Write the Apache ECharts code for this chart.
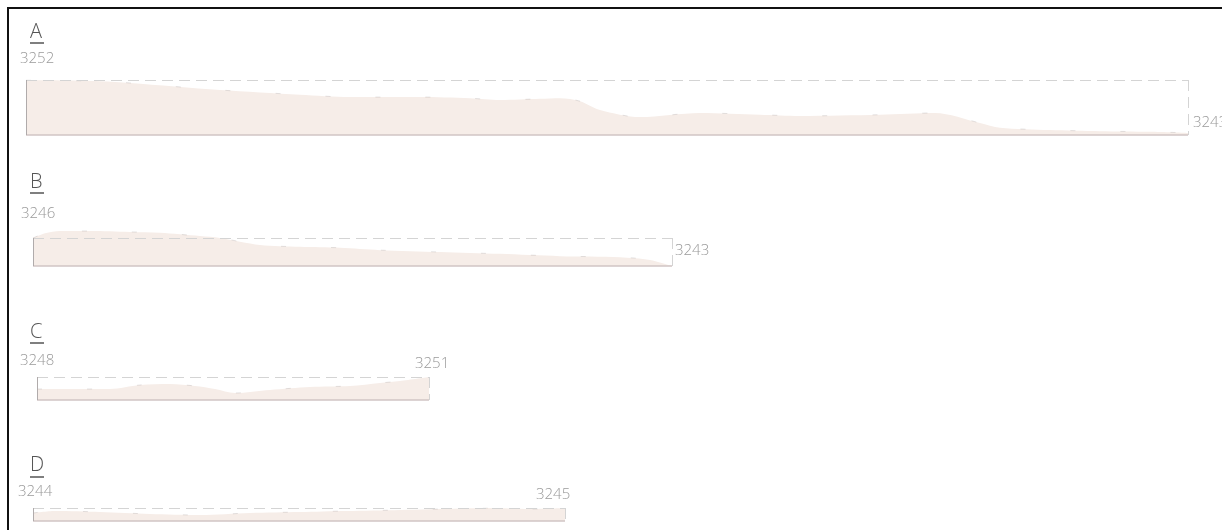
<!DOCTYPE html>
<html>
<head>
<meta charset="utf-8">
<script src="https://cdn.jsdelivr.net/npm/echarts@6/dist/echarts.min.js"></script>
<style>
html,body{margin:0;padding:0;background:#fff;}
#chart{width:1222px;height:530px;}
</style>
</head>
<body>
<div id="chart"></div>
<script>
// ---- data ----
const panelNames = ['A', 'B', 'C', 'D'];
const startElev = [3252, 3246, 3248, 3244];
const endElev = [3243, 3243, 3251, 3245];

const distA = [0, 0.74, 1.04, 1.94, 2.74, 3.24, 3.94, 4.44, 4.74, 5.14, 5.34, 5.54, 5.74, 6.14, 6.74, 7.34, 7.74, 8.54, 9.09, 9.54, 9.74, 10.24, 10.74, 11.24, 11.62];
const elevA = [3252.0, 3251.8, 3251.5, 3250.3, 3249.5, 3249.1, 3249.1, 3248.9, 3248.6, 3248.8, 3248.9, 3248.4, 3246.9, 3245.7, 3246.4, 3246.1, 3245.9, 3246.1, 3246.4, 3244.7, 3243.9, 3243.5, 3243.3, 3243.2, 3243.0];

const distB = [0, 0.12, 0.27, 0.57, 0.97, 1.27, 1.67, 1.87, 2.27, 2.67, 3.07, 3.47, 4.07, 4.67, 5.27, 5.87, 6.17, 6.39];
const elevB = [3246.0, 3246.5, 3246.75, 3246.75, 3246.65, 3246.55, 3246.2, 3246.0, 3245.25, 3245.05, 3244.95, 3244.7, 3244.5, 3244.3, 3244.05, 3243.95, 3243.65, 3243.0];

const distC = [0, 0.73, 1.03, 1.33, 1.58, 1.78, 1.98, 2.33, 2.73, 3.13, 3.43, 3.63, 3.92];
const elevC = [3248, 3248, 3249, 3249.25, 3248.75, 3248, 3247, 3247.75, 3248.5, 3248.75, 3249.5, 3250, 3251];

const distD = [0, 0.22, 0.67, 1.17, 1.67, 2.17, 2.67, 3.13, 3.67, 4.27, 4.57, 4.97, 5.32];
const elevD = [3244.0, 3244.4, 3244.2, 3243.8, 3243.6, 3244.0, 3244.2, 3244.4, 3244.6, 3244.9, 3245.0, 3244.8, 3245.0];

// vertical value range of each profile panel
const yMinArr = [3242.65, 3243.0, 3245.25, 3242.4];
const yMaxArr = [3252.0, 3247.07, 3251.0, 3245.0];

const dists = [distA, distB, distC, distD];
const elevs = [elevA, elevB, elevC, elevD];

// ---- layout (styles) ----
const pxPerKm = 100;
const gridLeft = [26, 33, 37, 33];
const gridTop = [80, 228, 377, 508];
const gridHeight = [55, 38, 23, 13];
const letterY = [32, 182, 332, 465];
const underlineY = [43, 193, 343, 477];
const startPos = [[20, 59], [21, 214], [20, 361], [18, 492]];
const endPos = [[1193, 123], [675, 251], [415, 364], [536, 495]];

const FONT = "'Open Sans', 'Noto Sans', sans-serif";
const fillColor = '#f6ede8';

const grids = [], xAxes = [], yAxes = [], series = [], graphics = [];

panelNames.forEach((name, i) => {
  const d = dists[i], e = elevs[i];
  const len = d[d.length - 1];
  const yMin = yMinArr[i], yMax = yMaxArr[i];
  const topVal = Math.max(startElev[i], endElev[i]);
  grids.push({ left: gridLeft[i], top: gridTop[i], width: len * pxPerKm, height: gridHeight[i], containLabel: false });
  xAxes.push({ type: 'value', gridIndex: i, min: 0, max: len, show: false });
  yAxes.push({ type: 'value', gridIndex: i, min: yMin, max: yMax, show: false, scale: true });
  const solidBottom = { type: 'solid', color: '#d0c5c5', width: 1.5 };
  const solidLeft = { type: 'solid', color: '#b0abab', width: 1 };
  const dashed = { type: [11, 6], color: '#d4d4d4', width: 1 };
  series.push({
    type: 'line',
    xAxisIndex: i, yAxisIndex: i,
    data: d.map((x, k) => [x, e[k]]),
    smooth: 0.3,
    showSymbol: false,
    silent: true,
    lineStyle: { width: 1, type: [5, 45], color: 'rgba(110,100,100,0.18)' },
    areaStyle: { color: fillColor, opacity: 1, origin: 'start' },
    markLine: {
      silent: true,
      symbol: 'none',
      label: { show: false },
      animation: false,
      data: [
        [{ coord: [0, topVal], lineStyle: dashed }, { coord: [len, topVal] }],
        [{ coord: [len, topVal], lineStyle: dashed }, { coord: [len, yMin] }],
        [{ coord: [0, yMin], lineStyle: solidBottom }, { coord: [len, yMin] }],
        [{ coord: [0, yMin], lineStyle: solidLeft }, { coord: [0, topVal] }]
      ]
    }
  });
  graphics.push({
    type: 'text', x: 30, y: letterY[i],
    style: { text: name, font: `300 20px ${FONT}`, fill: '#555', textVerticalAlign: 'middle' }
  });
  graphics.push({
    type: 'line', shape: { x1: 30, y1: underlineY[i], x2: 44, y2: underlineY[i] },
    style: { stroke: '#555', lineWidth: 1.5 }
  });
  graphics.push({
    type: 'text', x: startPos[i][0], y: startPos[i][1],
    style: { text: String(startElev[i]), font: `300 15px ${FONT}`, fill: '#9a9a9a', textVerticalAlign: 'middle' }
  });
  graphics.push({
    type: 'text', x: endPos[i][0], y: endPos[i][1],
    style: { text: String(endElev[i]), font: `300 15px ${FONT}`, fill: '#9a9a9a', textVerticalAlign: 'middle' }
  });
});

// frame lines (top and left)
graphics.push({ type: 'line', shape: { x1: 7, y1: 8, x2: 1222, y2: 8 }, style: { stroke: '#111', lineWidth: 2 } });
graphics.push({ type: 'line', shape: { x1: 8, y1: 7, x2: 8, y2: 530 }, style: { stroke: '#111', lineWidth: 2 } });

const chart = echarts.init(document.getElementById('chart'), null, { renderer: 'canvas' });
chart.setOption({
  animation: false,
  backgroundColor: '#fff',
  grid: grids,
  xAxis: xAxes,
  yAxis: yAxes,
  series: series,
  graphic: graphics
});
</script>
</body>
</html>
